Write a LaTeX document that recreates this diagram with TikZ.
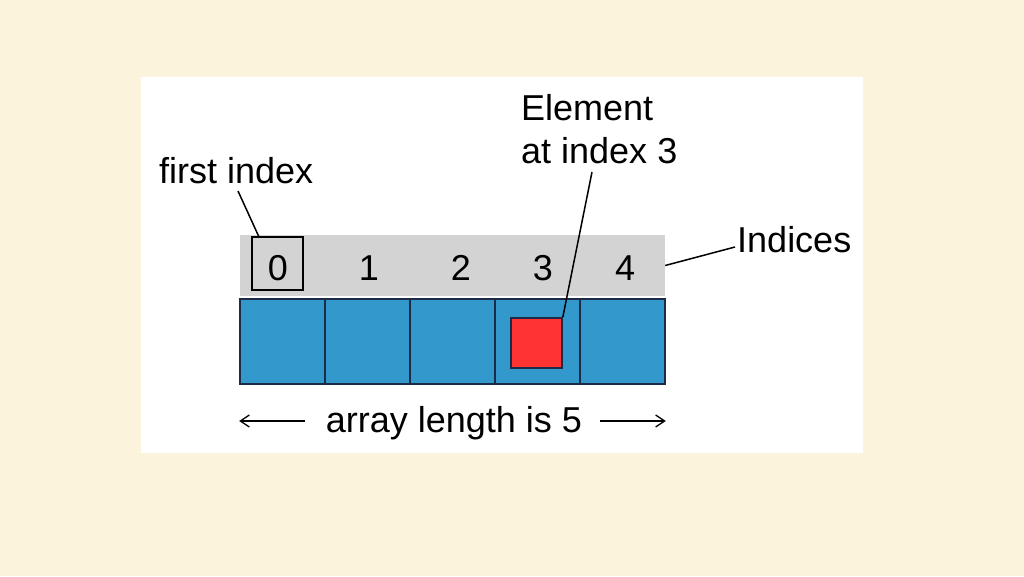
\documentclass[tikz,border=0pt]{standalone}
\usepackage{fontspec}
\setmainfont{Liberation Sans}
\usetikzlibrary{arrows.meta}
\definecolor{cream}{HTML}{FBF3DC}
\definecolor{cellblue}{HTML}{3399CC}
\definecolor{barGray}{HTML}{D3D3D3}
\definecolor{elemred}{HTML}{FF3333}
\definecolor{navy}{HTML}{1C2C48}
\begin{document}
\begin{tikzpicture}[x=1pt,y=-1pt,
  lbl/.style={inner sep=0pt,font=\fontsize{36}{40}\selectfont},
  cell/.style={draw=navy,line width=1.6pt,fill=cellblue,minimum width=85pt,minimum height=85pt,inner sep=0pt},
  conn/.style={line width=1.5pt,black},
  lenarrow/.style={line width=1.3pt,-{Straight Barb[length=9pt,width=12pt]}}]
\useasboundingbox (0,0) rectangle (1024,576);
\fill[cream] (0,0) rectangle (1024,576);
\fill[white] (141,77) rectangle (863,453);
% index bar
\node[fill=barGray,minimum width=425pt,minimum height=61pt,inner sep=0pt] (bar) at (452.5,265.5) {};
% cells
\foreach \i in {0,...,4}{
  \node[cell] (c\i) at ({282.5+85*\i},341.5) {};
}
\node[draw=navy,line width=1.6pt,fill=elemred,minimum width=51pt,minimum height=50pt,inner sep=0pt] (red) at (536.5,343) {};
% index box
\node[draw=black,line width=1.3pt,minimum width=51pt,minimum height=53pt,inner sep=0pt] (box0) at (277.5,263.5) {};
% digits
\node[lbl,anchor=base] (d0) at (278,280) {0};
\node[lbl,anchor=base] (d1) at (369,280) {1};
\node[lbl,anchor=base] (d2) at (461,280) {2};
\node[lbl,anchor=base] (d3) at (543,280) {3};
\node[lbl,anchor=base] (d4) at (625,280) {4};
% labels
\node[lbl,anchor=base west] (first) at (159,183) {first index};
\node[lbl,anchor=base west] (elem1) at (521,120) {Element};
\node[lbl,anchor=base west] (elem2) at (521,163) {at index 3};
\node[lbl,anchor=base west] (indices) at (737,252) {Indices};
\node[lbl,anchor=base] (len) at (454,432) {array length is 5};
% connectors
\coordinate (firstEnd) at (238,191);
\coordinate (boxTop) at (259,237);
\draw[conn] (firstEnd) -- (boxTop);
\coordinate (elemEnd) at (592,172);
\draw[conn] (elemEnd) -- (red.north east);
\coordinate (indEnd) at (735,247);
\draw[conn] (bar.east) -- (indEnd);
% length arrows
\coordinate (la) at (305,421);
\coordinate (ra) at (600,421);
\draw[lenarrow] (la) -- (c0.west |- la);
\draw[lenarrow] (ra) -- (c4.east |- ra);
\end{tikzpicture}
\end{document}
